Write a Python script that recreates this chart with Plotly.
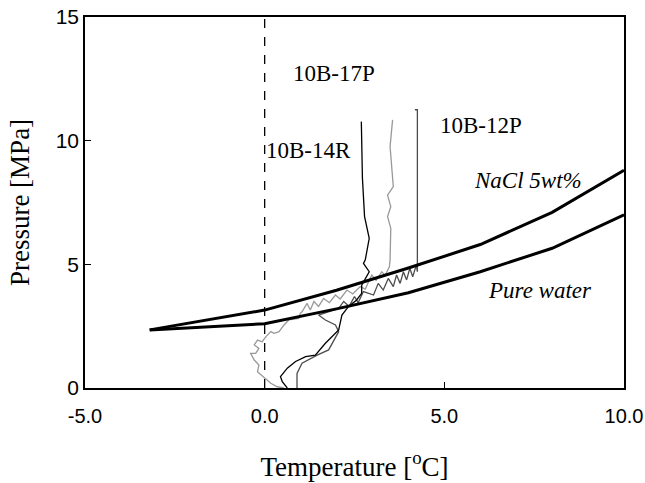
import plotly.graph_objects as go

# Equilibrium curves
pure_T = [-3.2, 0.0, 2.0, 4.0, 6.0, 8.0, 10.0]
pure_P = [2.35, 2.6, 3.2, 3.85, 4.7, 5.65, 7.0]
nacl_T = [-3.2, 0.0, 2.0, 4.0, 6.0, 8.0, 10.0]
nacl_P = [2.35, 3.15, 3.95, 4.85, 5.8, 7.1, 8.8]

# Experimental paths
r14_T = [0.63, 0.49, 0.44, 0.63, 0.86, 1.14, 1.41, 1.69, 2.06, 2.15, 2.33, 2.43, 2.56,
         2.70, 2.70, 2.91, 2.75, 2.80, 2.91, 2.78, 2.72, 2.69]
r14_P = [0.0, 0.26, 0.46, 0.80, 1.07, 1.27, 1.33, 1.81, 2.35, 2.95, 3.29, 3.42, 3.56,
         3.83, 4.16, 4.70, 5.04, 5.18, 6.05, 6.93, 8.5, 10.77]

p17_T = [0.54, 0.35, 0.17, 0.07, -0.07, -0.2, -0.16, -0.29, -0.39, -0.25, -0.16, -0.29, -0.2,
         -0.07, 0.03, 0.17, 0.26, 0.40, 0.54, 0.67, 0.95, 0.99, 1.04, 1.18, 1.27, 1.37, 1.5,
         1.64, 1.8, 1.97, 2.1, 2.29, 2.45, 2.66, 2.8, 2.98, 3.1, 3.26, 3.35, 3.47, 3.49, 3.51,
         3.42, 3.51, 3.42, 3.58, 3.49, 3.56]
p17_P = [0.0, 0.05, 0.19, 0.32, 0.53, 0.66, 0.93, 1.13, 1.4, 1.4, 1.6, 1.74, 1.94,
         1.87, 2.07, 2.28, 2.21, 2.28, 2.55, 2.75, 2.81, 3.02, 3.08, 3.42, 3.15, 3.5, 3.3,
         3.62, 3.45, 3.76, 3.6, 3.96, 3.8, 4.1, 4.0, 4.57, 4.35, 4.70, 4.55, 4.9, 5.18, 6.46,
         6.93, 7.33, 7.8, 8.14, 9.76, 10.84]

p12_T = [0.9, 0.9, 1.04, 1.46, 1.78, 2.06, 1.97, 1.69, 1.5, 1.78, 2.06, 2.2, 2.35, 2.5, 2.6,
         2.75, 2.89, 3.03, 3.16, 3.30, 3.44, 3.58, 3.67, 3.77, 3.86, 3.95, 4.04, 4.12, 4.22,
         4.25, 4.25, 4.18]
p12_P = [0.0, 0.59, 1.0, 1.33, 1.54, 2.28, 2.55, 2.75, 2.95, 3.08, 3.22, 3.5, 3.3, 3.7, 3.45,
         3.9, 3.83, 3.76, 4.23, 3.96, 4.43, 4.10, 4.57, 4.23, 4.70, 4.37, 4.84, 4.5, 4.97,
         4.7, 11.25, 11.25]

x_ticks = [-5, 0, 5, 10]
x_labels = ["-5.0", "0.0", "5.0", "10.0"]
y_ticks = [0, 5, 10, 15]

serif = "Liberation Serif"
sans = "Liberation Sans"

fig = go.Figure()
fig.add_trace(go.Scatter(x=[0, 0], y=[0, 15], mode="lines",
                         line=dict(color="black", width=1.3, dash="dash"), showlegend=False))
fig.add_trace(go.Scatter(x=p17_T, y=p17_P, mode="lines",
                         line=dict(color="#999999", width=1.3), showlegend=False))
fig.add_trace(go.Scatter(x=p12_T, y=p12_P, mode="lines",
                         line=dict(color="#4d4d4d", width=1.3), showlegend=False))
fig.add_trace(go.Scatter(x=r14_T, y=r14_P, mode="lines",
                         line=dict(color="black", width=1.3), showlegend=False))
fig.add_trace(go.Scatter(x=nacl_T, y=nacl_P, mode="lines",
                         line=dict(color="black", width=3), showlegend=False))
fig.add_trace(go.Scatter(x=pure_T, y=pure_P, mode="lines",
                         line=dict(color="black", width=3), showlegend=False))

ann_font = dict(family=serif, size=23, color="black")
annotations = [
    dict(x=1.92, y=12.7, text="10B-17P", showarrow=False, font=ann_font),
    dict(x=1.23, y=9.62, text="10B-14R", showarrow=False, font=ann_font),
    dict(x=6.02, y=10.63, text="10B-12P", showarrow=False, font=ann_font),
    dict(x=7.34, y=8.37, text="<i>NaCl 5wt%</i>", showarrow=False, font=ann_font),
    dict(x=7.65, y=3.96, text="<i>Pure water</i>", showarrow=False, font=ann_font),
]

fig.update_layout(
    width=645, height=483,
    margin=dict(l=85, r=21, t=17, b=95, autoexpand=False),
    plot_bgcolor="white", paper_bgcolor="white",
    annotations=annotations,
    xaxis=dict(range=[-5, 10], tickvals=x_ticks, ticktext=x_labels, automargin=False,
               showgrid=False, zeroline=False, showline=True, linecolor="black", linewidth=1.5,
               mirror=True, ticks="inside", ticklen=6, tickcolor="black",
               ticklabelstandoff=9, ticklabeloverflow="allow",
               tickfont=dict(family=sans, size=20, color="black"),
               title=dict(text="Temperature [<sup>o</sup>C]", font=dict(family=serif, size=27, color="black"),
                          standoff=31)),
    yaxis=dict(range=[0, 15], tickvals=y_ticks, automargin=False,
               showgrid=False, zeroline=False, showline=True, linecolor="black", linewidth=1.5,
               mirror=True, ticks="inside", ticklen=6, tickcolor="black",
               tickfont=dict(family=sans, size=21, color="black"),
               title=dict(text="Pressure [MPa]", font=dict(family=serif, size=27, color="black"),
                          standoff=18)),
)

fig.write_html("out.html", post_script="document.body.style.margin='0px';",
               config={"displayModeBar": False})
